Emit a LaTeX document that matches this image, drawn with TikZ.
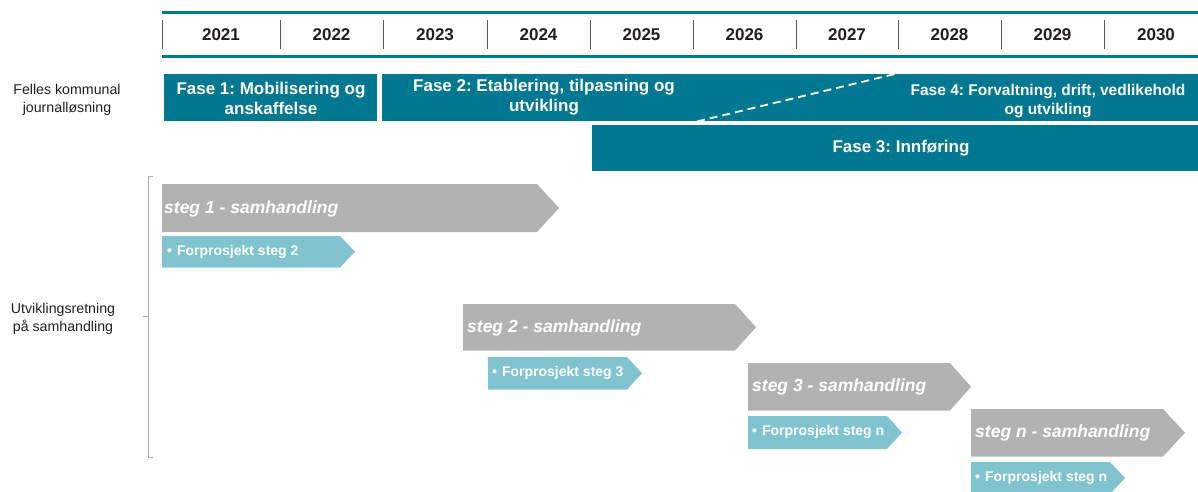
\documentclass[tikz,border=0pt]{standalone}
\usepackage{fontspec}
\setmainfont{Liberation Sans}
\definecolor{teal1}{RGB}{0,120,145}
\definecolor{gray1}{RGB}{178,178,178}
\definecolor{lteal}{RGB}{128,196,207}
\definecolor{tickc}{RGB}{90,90,90}
\definecolor{txtc}{RGB}{35,31,32}
\definecolor{brc}{RGB}{170,170,180}
\begin{document}
\frenchspacing
\begin{tikzpicture}[x=1pt,y=-1pt,
  yearlbl/.style={font=\fontsize{17}{20}\selectfont\bfseries, text=txtc, inner sep=0pt},
  fasebox/.style={fill=teal1, draw=none},
  fasetxt/.style={font=\fontsize{17}{20}\selectfont\bfseries, text=white, align=center, inner sep=0pt},
  fase4txt/.style={font=\fontsize{15.5}{19}\selectfont\bfseries, text=white, align=center, inner sep=0pt},
  sidelbl/.style={font=\fontsize{14.2}{18.5}\selectfont, text=txtc, align=center, inner sep=0pt},
  stegtxt/.style={font=\fontsize{17.5}{20}\selectfont\bfseries\itshape, text=white, anchor=west, inner sep=0pt},
  fptxt/.style={font=\fontsize{14}{17}\selectfont\bfseries, text=white, anchor=west, inner sep=0pt}
]
\useasboundingbox (0,0) rectangle (1198,492);

% header
\draw[teal1, line width=3pt] (162,13) -- (1198,13);
\draw[teal1, line width=3pt] (162,57) -- (1198,57);
\foreach \xx in {162,280,383,487,590,693,796,898,1001,1104}
  \draw[tickc, line width=1pt] (\xx,20) -- (\xx,49);
\node[yearlbl] (y2021) at (221,35) {2021};
\node[yearlbl] (y2022) at (331.5,35) {2022};
\node[yearlbl] (y2023) at (435,35) {2023};
\node[yearlbl] (y2024) at (538.5,35) {2024};
\node[yearlbl] (y2025) at (641.5,35) {2025};
\node[yearlbl] (y2026) at (744.5,35) {2026};
\node[yearlbl] (y2027) at (847,35) {2027};
\node[yearlbl] (y2028) at (949.5,35) {2028};
\node[yearlbl] (y2029) at (1052.5,35) {2029};
\node[yearlbl] (y2030) at (1156,35) {2030};

% side labels
\node[sidelbl] (felles) at (67,100) {Felles kommunal\\journalløsning};
\node[sidelbl] (utv) at (63,319) {Utviklingsretning\\på samhandling};

% phases
\fill[fasebox] (164,74) rectangle (377,121.5);
\fill[fasebox] (382,74) rectangle (1198,121.5);
\fill[fasebox] (592,125) rectangle (1198,170.5);
\draw[white, line width=1.8pt, dash pattern=on 8pt off 5pt] (697,121.5) -- (895,74);
\node[fasetxt] (f1) at (271,98) {Fase 1: Mobilisering og\\anskaffelse};
\node[fasetxt] (f2) at (544,97) {Fase 2: Etablering, tilpasning og\\utvikling};
\node[fase4txt] (f4) at (1048,101) {Fase 4: Forvaltning, drift, vedlikehold\\og utvikling};
\node[fasetxt] (f3) at (901,148) {Fase 3: Innføring};

% bracket
\draw[brc, line width=1pt] (153,176) -- (148,176) -- (148,457) -- (153,457);
\draw[brc, line width=1pt] (148,316) -- (143,316);

% steps
\newcommand{\arrowshape}[6]{% x1, tipx, bodyx, y1, y2, color
  \fill[#6] (#1,#4) -- (#3,#4) -- (#2,{(#4+#5)/2}) -- (#3,#5) -- (#1,#5) -- cycle;}
\arrowshape{162}{559}{537}{184}{232}{gray1}
\node[stegtxt] (s1) at (164,209) {steg 1 - samhandling};
\arrowshape{162}{355}{340}{236}{267.5}{lteal}
\node[fptxt] (fp2) at (167,251.5) {•\hspace{5pt}Forprosjekt steg 2};

\arrowshape{463}{756}{735}{304}{350.5}{gray1}
\node[stegtxt] (s2) at (467,328) {steg 2 - samhandling};
\arrowshape{488}{642}{627}{357}{389.5}{lteal}
\node[fptxt] (fp3) at (492,373) {•\hspace{5pt}Forprosjekt steg 3};

\arrowshape{748}{971}{950}{363}{410.5}{gray1}
\node[stegtxt] (s3) at (752,387) {steg 3 - samhandling};
\arrowshape{748}{902}{887}{416}{449}{lteal}
\node[fptxt] (fpn1) at (752,432) {•\hspace{5pt}Forprosjekt steg n};

\arrowshape{971}{1185}{1163}{409}{456.5}{gray1}
\node[stegtxt] (sn) at (975,433) {steg n - samhandling};
\arrowshape{971}{1125}{1110}{462}{494}{lteal}
\node[fptxt] (fpn2) at (975,478) {•\hspace{5pt}Forprosjekt steg n};
\end{tikzpicture}
\end{document}
